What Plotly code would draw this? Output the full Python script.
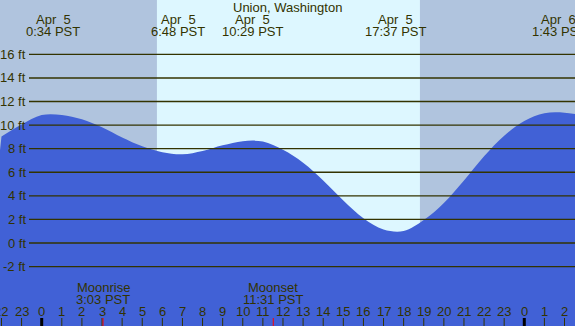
import plotly.graph_objects as go

# ---- data ----
title = "Union, Washington"
tide_hours = list(range(-2, 28))
tide_ft = [9.03, 10.05, 10.85, 10.86, 10.49, 9.81, 8.95, 8.2, 7.7, 7.52,
           7.8, 8.28, 8.64, 8.6, 7.9, 6.8, 5.3, 3.6, 2.1, 1.15,
           1.02, 1.95, 3.4, 5.3, 7.35, 9.1, 10.35, 11.0, 11.05, 10.8]

extreme_hours = [0.567, 6.8, 10.483, 17.617, 25.717]
extreme_dates = ["Apr  5", "Apr  5", "Apr  5", "Apr  5", "Apr  6"]
extreme_times = ["0:34 PST", "6:48 PST", "10:29 PST", "17:37 PST", "1:43 PST"]

sunrise = 5.73
sunset = 18.81

moon_hours = [3.05, 11.517, 27.77]
moon_names = ["Moonrise", "Moonset", "Moonrise"]
moon_times = ["3:03 PST", "11:31 PST", "3:46 PST"]

y_ticks = [16, 14, 12, 10, 8, 6, 4, 2, 0, -2]
y_tick_labels = ["16 ft", "14 ft", "12 ft", "10 ft", "8 ft", "6 ft", "4 ft", "2 ft", "0 ft", "-2 ft"]

hour_ticks = list(range(-2, 28))
hour_labels = [str(h % 24) for h in hour_ticks]

# ---- styling ----
W, H = 575, 326
X_RANGE = [-2.0738, 26.522]
Y_RANGE = [-7.04, 20.61]
NIGHT = "#b0c4de"
DAY = "#ddf7ff"
WATER = "#4161d6"
INK = "#333300"
FONT = "Liberation Sans, Arial, sans-serif"


def py(px):
    return 1 - px / H


fig = go.Figure()
fig.add_trace(go.Scatter(x=[X_RANGE[0] - 1, X_RANGE[1] + 1], y=[Y_RANGE[0] - 1] * 2,
                         mode="lines", line=dict(width=0), hoverinfo="skip",
                         showlegend=False))
fig.add_trace(go.Scatter(x=tide_hours, y=tide_ft, mode="lines",
                         line=dict(color=WATER, width=0, shape="spline"),
                         fill="tonexty", fillcolor=WATER, showlegend=False))

shapes = []
shapes.append(dict(type="rect", xref="x", yref="paper", x0=sunrise, x1=sunset,
                   y0=0, y1=1, fillcolor=DAY, line=dict(width=0), layer="below"))
for v in y_ticks:
    shapes.append(dict(type="line", xref="paper", yref="y", x0=29 / W, x1=1,
                       y0=v, y1=v, line=dict(color=INK, width=1.4), layer="above"))
for h in hour_ticks:
    mid = (h % 24 == 0)
    shapes.append(dict(type="line", xref="x", yref="paper", x0=h, x1=h,
                       y0=0, y1=8 / H,
                       line=dict(color="#000000" if mid else INK, width=3 if mid else 1),
                       layer="above"))
for h in moon_hours:
    shapes.append(dict(type="line", xref="x", yref="paper", x0=h, x1=h,
                       y0=0, y1=8 / H, line=dict(color="#ff0000", width=1),
                       layer="above"))

ann = []
fnt = dict(family=FONT, size=13, color=INK)
ann.append(dict(text=title, xref="paper", yref="paper", x=0.5, y=py(7.5),
                xanchor="center", yanchor="middle", showarrow=False, font=fnt))
for h, d, t in zip(extreme_hours, extreme_dates, extreme_times):
    ann.append(dict(text=d.replace(" ", "\u00a0"), xref="x", yref="paper", x=h, y=py(19.5),
                    xanchor="center", yanchor="middle", showarrow=False, font=fnt))
    ann.append(dict(text=t, xref="x", yref="paper", x=h, y=py(31.7),
                    xanchor="center", yanchor="middle", showarrow=False, font=fnt))
for h, n, t in zip(moon_hours, moon_names, moon_times):
    ann.append(dict(text=n, xref="x", yref="paper", x=h, y=py(287.3),
                    xanchor="center", yanchor="middle", showarrow=False, font=fnt))
    ann.append(dict(text=t, xref="x", yref="paper", x=h, y=py(299.3),
                    xanchor="center", yanchor="middle", showarrow=False, font=fnt))
for v, lab in zip(y_ticks, y_tick_labels):
    ann.append(dict(text=lab, xref="paper", yref="y", x=27.5 / W, y=v,
                    xanchor="right", yanchor="middle", showarrow=False, font=fnt))
for h, lab in zip(hour_ticks, hour_labels):
    ann.append(dict(text=lab, xref="x", yref="paper", x=h, y=py(311.7),
                    xanchor="center", yanchor="middle", showarrow=False, font=fnt))

fig.update_layout(
    width=W, height=H, margin=dict(l=0, r=0, t=0, b=0),
    paper_bgcolor=NIGHT, plot_bgcolor=NIGHT,
    xaxis=dict(range=X_RANGE, visible=False, fixedrange=True),
    yaxis=dict(range=Y_RANGE, visible=False, fixedrange=True),
    shapes=shapes, annotations=ann, showlegend=False,
)

fig.write_html("out.html", config={"displayModeBar": False},
               post_script="document.body.style.margin='0';document.body.style.overflow='hidden';")
